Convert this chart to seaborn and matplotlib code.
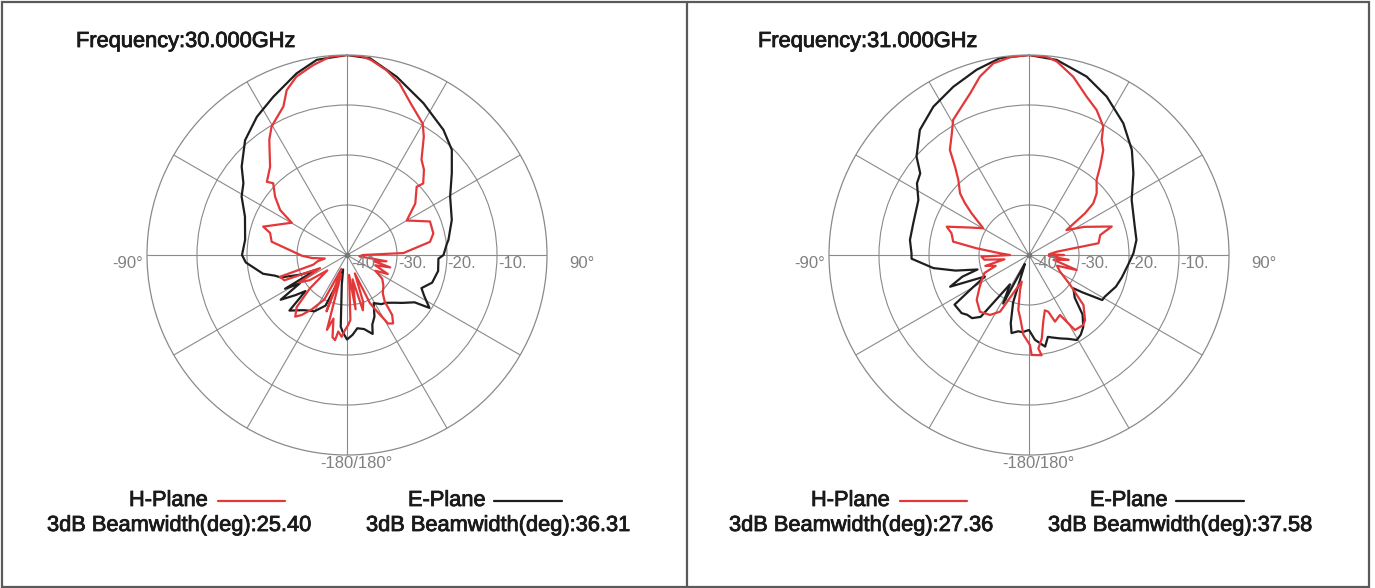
import numpy as np
import pandas as pd
import matplotlib
matplotlib.use("Agg")
import matplotlib.pyplot as plt
import matplotlib.patheffects as pe
from matplotlib.patches import Rectangle
from matplotlib.lines import Line2D
import seaborn as sns

# ---------------- data (angle in degrees clockwise from top, level in dB) ----------------
h30_deg = [0, 4, 7, 12, 17, 23, 30, 33, 38, 42, 46.8, 45.6, 53, 60, 68, 76, 81, 88,
           90, 96, 99, 103, 106, 110, 115, 119, 124, 130, 137, 141, 143, 146, 149, 152, 154.5,
           157, 161, 164, 167, 171, 174, 177, 179, 181.5, 183.7, 186.5, 188, 190, 192, 195,
           197, 200, 202, 207, 213, 217, 220, 224, 228, 232, 236, 240, 244, 248, 252, 254,
           258, 261, 265, 269, 272, 280, 286, 288.7, 300.3, 303.9, 309, 314.2, 312.4, 318.9,
           326, 329.6, 336.8, 339.9, 344.2, 350, 355.1, 360]
h30_db = [0, -0.1, -0.7, -2.2, -4.1, -7.2, -9.7, -11.8, -15.8, -17.0, -19.1, -20.5, -22.9, -26.2, -22.1, -22.2, -23.2, -28.7,
          -36.8, -37.5, -32, -34.5, -31, -34, -31, -33.5, -31.5, -30.5, -29.5, -28, -25, -23.5, -24, -27.2, -29.3,
          -36, -30, -28.5, -35, -29, -36, -27, -26, -25, -23.6, -24.6, -22.8, -23.3, -27, -24.5,
          -36, -28, -37, -30, -27, -25, -23.9, -25.5, -30, -35, -31, -29, -34, -26.5, -25.9, -33,
          -34, -35.5, -33, -31, -29.9, -24.7, -24.0, -22.3, -27.2, -23.9, -21.5, -19.4, -18.3, -16.6,
          -12.2, -10.2, -7.7, -4.9, -2.9, -1.4, -0.2, 0]

e30_deg = [0, 6.7, 15.6, 26.7, 37.6, 44.9, 52, 60.5, 71.5, 81.6, 83.6, 90, 92.3, 100, 108, 114, 118,
           122.7, 125, 131, 135, 141, 145, 151, 156, 160, 162, 167, 172, 176, 180, 183, 185, 190,
           195, 199, 203, 210, 218, 226, 229, 232, 236, 239, 241.4, 244.3, 247, 251.3, 254, 257.4,
           265.8, 270, 278.4, 290.6, 299, 304.7, 310, 318.4, 326.9, 335, 344.5, 351.2, 360]
e30_db = [0, -0.4, -3.0, -6.0, -8.4, -10.3, -13.4, -16.3, -17.9, -19.5, -19.9, -20.7, -21.7, -21.5, -22.1, -23.7, -22.5,
          -20.4, -23.5, -25.4, -26.5, -27.7, -28.0, -29.0, -26.5, -25.2, -23.4, -24.8, -25.2, -24.0, -23.1, -24.5, -25.6, -34,
          -37, -34, -29, -27, -26, -24, -29, -27, -24, -29, -25.9, -33.1, -30, -26, -25, -22.8,
          -19.7, -19.0, -19.4, -18.2, -15.9, -14.8, -12.5, -9.3, -7.0, -5.1, -2.3, -0.5, 0]

h31_deg = [0, 5, 8.2, 14, 20, 25, 30, 32.3, 35.3, 38.8, 42, 47.7, 51.2, 53.3, 56.4, 63, 71, 74.3, 80.4, 83.2,
           88, 90, 93, 97, 101, 107.5, 111, 118, 126, 132.6, 139.3, 142.2, 148.5, 152.7, 158.7, 161.2,
           164, 167.9, 171.3, 174.3, 172.8, 178.5, 179.4, 184, 188.3, 191, 194.4, 195.3, 200, 207,
           213, 220.8, 229.3, 236, 242.1, 248, 252, 256, 260, 264, 268, 270, 273.4, 277.3, 280,
           285.7, 289, 295, 300.3, 306, 309, 311.8, 316.7, 320, 323, 327.6, 330.7, 335.6, 340,
           344.6, 349.5, 355, 360]
h31_db = [0, -0.2, -0.9, -3.3, -6.3, -8.0, -10.3, -12.8, -14.3, -17.3, -19.8, -21.7, -23.5, -26, -31, -27.6, -22.5, -25.2, -25.9, -34.4,
          -36, -33, -36, -32, -35, -30, -34, -33, -29.8, -25.2, -22.8, -22.3, -22.4, -26.5, -25.7, -28,
          -28.5, -26.4, -23.1, -21.2, -19.8, -20, -22, -24, -27.5, -28.8, -32.8, -34.5, -33, -27.3,
          -25.7, -25, -26.2, -28, -29.3, -30.4, -33, -31, -35, -31, -30.5, -36.2, -34.2, -29.4, -24.6,
          -23.9, -22.6, -27, -29.4, -25.8, -23.5, -21.5, -19.4, -17, -13.7, -11.2, -9.0, -7.4, -5.6,
          -3.0, -1.0, -0.2, 0]

e31_deg = [0, 8.1, 17.9, 26.1, 35.6, 44.4, 52, 61.8, 75, 82, 89, 95, 103.6, 110, 118.8, 121.6, 125,
           126.9, 133, 138, 142.9, 147, 150.7, 155, 159.6, 164.6, 167, 170, 176, 180, 185, 188,
           192.6, 195, 198.5, 202, 205, 208, 213, 218, 222, 226, 229.2, 236.3, 240, 244, 248.1,
           252, 254.3, 258, 262.2, 268.2, 270.8, 277.2, 285.3, 296.4, 302.6, 306.9, 311.2,
           318.9, 327.2, 335.8, 344.2, 351.6, 360]
e31_db = [0, -0.6, -2.5, -4.7, -7.6, -10.6, -13.5, -16.7, -18.1, -18.3, -19.1, -20, -20.9, -21.5, -22.7, -22.8, -27,
          -28.9, -27.5, -24, -22, -21, -20.5, -21.5, -22.2, -22.9, -23.2, -21.4, -23, -25, -24.5, -24.6,
          -24.0, -25.9, -30, -37, -38, -29, -33, -24.3, -23, -22.8, -22.2, -22.1, -27, -30.2, -23,
          -26, -29.3, -25, -20.7, -16.5, -16.5, -16, -16, -15.3, -13.4, -12.8, -10.1,
          -6.8, -4.7, -3.1, -1.5, -0.2, 0]

frequencies = ["Frequency:30.000GHz", "Frequency:31.000GHz"]
series_names = ["H-Plane", "E-Plane"]
beamwidths = [["25.40", "36.31"], ["27.36", "37.58"]]
ring_labels = ["-40", "-30.", "-20.", "-10."]
ring_values = [-40, -30, -20, -10]

# ---------------- styling ----------------
sns.set_theme(style="white")
plt.rcParams["font.family"] = ["Liberation Sans", "DejaVu Sans"]

W, H = 1375, 588
fig = plt.figure(figsize=(W / 100, H / 100), dpi=100)
fig.patch.set_facecolor("white")

RED = "#e2383a"
BLACK = "#1e1e1e"
GRID = "#8a8a8a"
LABEL = "#808080"
TXT = "#1a1a1a"
R = 200
centers = [(347, 255), (1029, 255)]
curves = [((h30_deg, h30_db), (e30_deg, e30_db)), ((h31_deg, h31_db), (e31_deg, e31_db))]
heavy = [pe.withStroke(linewidth=0.6, foreground=TXT)]


def fx(x):
    return x / W


def fy(y):
    return 1 - y / H


for i, (cx, cy) in enumerate(centers):
    ax = fig.add_axes([(cx - R) / W, (H - cy - R) / H, 2 * R / W, 2 * R / H], projection="polar")
    ax.set_facecolor("white")
    ax.set_theta_zero_location("N")
    ax.set_theta_direction(-1)
    ax.set_ylim(-40, 0)
    ax.set_yticks([-30, -20, -10])
    ax.set_yticklabels([])
    ax.set_xticks(np.deg2rad(np.arange(0, 360, 30)))
    ax.set_xticklabels([])
    ax.grid(True, color=GRID, lw=0.8)
    ax.spines["polar"].set_color(GRID)
    ax.spines["polar"].set_linewidth(0.9)

    (hd, hv), (ed, ev) = curves[i]
    df_e = pd.DataFrame({"theta": np.deg2rad(ed), "db": ev})
    df_h = pd.DataFrame({"theta": np.deg2rad(hd), "db": hv})
    sns.lineplot(data=df_e, x="theta", y="db", sort=False, estimator=None,
                 color=BLACK, lw=1.6, ax=ax)
    sns.lineplot(data=df_h, x="theta", y="db", sort=False, estimator=None,
                 color=RED, lw=1.6, ax=ax)
    ax.set_xlabel("")
    ax.set_ylabel("")
    ax.set_ylim(-40, 0)
    ax.plot([0], [-40], "o", color="#777777", ms=3, zorder=5)

    kw = dict(textcoords="offset pixels", color=LABEL, fontsize=12, va="center",
              annotation_clip=False)
    ax.annotate("-90°", xy=(-np.pi / 2, 0), xytext=(-19, -9), ha="center", **kw)
    ax.annotate("90°", xy=(np.pi / 2, 0), xytext=(35, -9), ha="center", **kw)
    ax.annotate("-180/180°", xy=(np.pi, 0), xytext=(9, -9), ha="center", **kw)
    for lab, val, off in zip(ring_labels, ring_values, [4, 1, 0, 1]):
        ax.annotate(lab, xy=(np.pi / 2, val), xytext=(off, -9), ha="left", **kw)

    # texts
    fs = 15.7
    tk = dict(fontsize=fs, color=TXT, ha="left", va="baseline", path_effects=heavy)
    fig.text(fx(cx - 271), fy(47), frequencies[i], **tk)
    fig.text(fx(cx - 218), fy(506), series_names[0], **tk)
    fig.text(fx(cx + 61), fy(506), series_names[1], **tk)
    fig.text(fx(cx - 300), fy(531), "3dB Beamwidth(deg):" + beamwidths[i][0], **tk)
    fig.text(fx(cx + 19), fy(531), "3dB Beamwidth(deg):" + beamwidths[i][1], **tk)
    fig.add_artist(Line2D([fx(cx - 129), fx(cx - 62)], [fy(501), fy(501)], color=RED, lw=1.6,
                          transform=fig.transFigure))
    fig.add_artist(Line2D([fx(cx + 147), fx(cx + 215)], [fy(501), fy(501)], color=BLACK, lw=1.6,
                          transform=fig.transFigure))

# frame
fig.add_artist(Rectangle((fx(1.5), fy(586.5)), fx(1368.5) - fx(1.5), fy(2) - fy(586.5),
                         transform=fig.transFigure, fill=False, ec="#5a5a5a", lw=1.6))
fig.add_artist(Line2D([fx(686.5), fx(686.5)], [fy(2), fy(586.5)], color="#5a5a5a", lw=1.6,
                      transform=fig.transFigure))

fig.savefig("out.png", dpi=100, facecolor="white")
